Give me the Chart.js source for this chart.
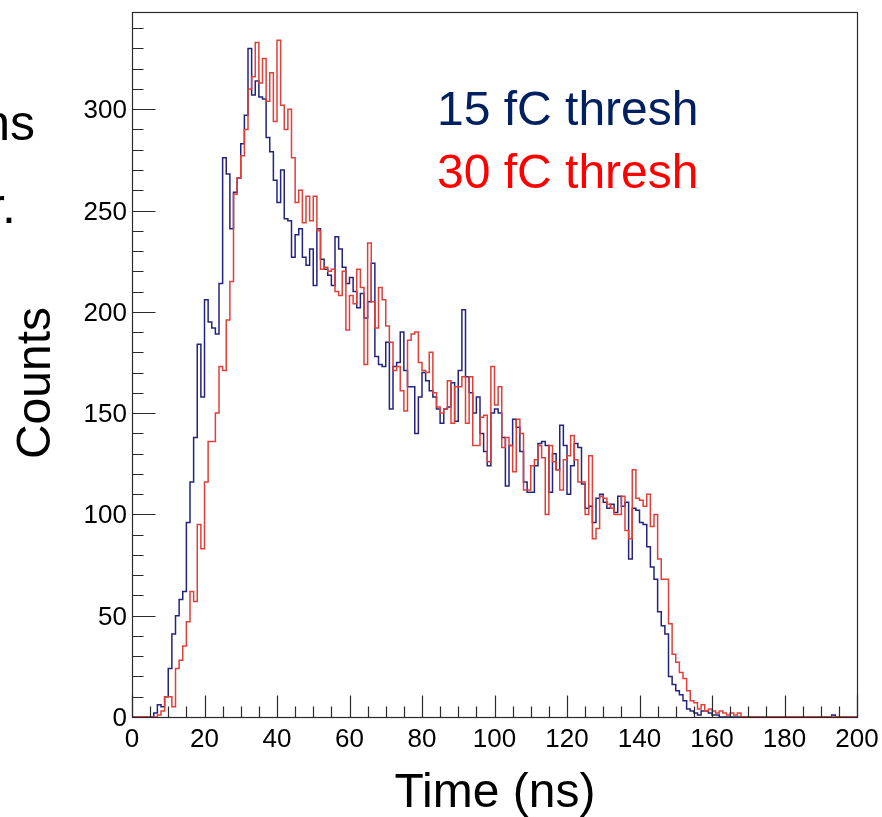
<!DOCTYPE html>
<html><head><meta charset="utf-8">
<script src="https://cdn.jsdelivr.net/npm/chart.js@4.4.0/dist/chart.umd.min.js"></script>
<style>html,body{margin:0;padding:0;background:#fff;overflow:hidden}canvas{display:block}</style>
</head><body>
<canvas id="c" width="882" height="817"></canvas>
<script>
// Histogram: 200 bins of 1 ns from 0 to 200 ns
const X_MIN = 0, X_MAX = 200, BIN_WIDTH = 1;
const Y_MAX = 348;

// 15 fC threshold (blue) — counts per 1 ns bin, bins 0..199
const blue15 = [
  0,0,0,0,0,0,2,6,5,10,
  24,41,50,58,62,96,116,138,184,158,
  206,195,192,189,214,276,268,241,259,266,
  283,297,330,307,314,306,305,286,279,265,
  254,270,246,245,227,238,241,227,223,231,
  213,241,226,221,218,213,237,231,222,214,
  217,210,202,209,197,205,224,178,174,173,
  185,152,173,175,190,171,163,163,140,158,
  170,166,161,158,152,145,152,153,165,146,
  171,201,168,160,150,158,140,131,124,150,
  152,150,138,114,134,147,143,131,116,111,
  111,124,135,136,134,111,130,122,144,134,
  110,124,135,133,115,103,104,96,108,110,
  106,103,105,101,109,104,106,78,103,102,
  96,95,84,74,68,52,45,41,20,16,
  13,11,8,4,3,2,1,3,3,2,
  1,1,0,0,0,0,0,0,0,0,
  0,0,0,0,0,0,0,0,0,0,
  0,0,0,0,0,0,0,0,0,0,
  0,0,0,1,0,0,0,0,0,0
];

// 30 fC threshold (red) — counts per 1 ns bin, bins 0..199
const red30 = [
  0,0,0,0,0,0,0,1,3,10,
  10,5,24,28,35,47,62,57,95,83,
  116,136,136,150,173,171,196,215,258,266,
  277,290,310,316,333,313,325,304,318,294,
  334,302,290,300,276,254,260,244,257,245,
  257,240,221,222,220,221,210,208,220,191,
  208,204,221,212,174,234,205,192,212,206,
  193,185,171,173,161,151,186,189,190,175,
  171,170,180,160,153,150,152,166,145,163,
  163,168,145,168,134,134,148,149,126,173,
  154,163,133,138,134,121,147,140,112,112,
  124,127,134,128,100,134,126,122,112,127,
  129,139,127,116,116,100,129,88,93,109,
  108,105,103,100,100,109,92,88,122,108,
  107,104,110,94,100,78,68,68,46,31,
  27,22,19,13,8,7,4,6,3,4,
  3,2,3,2,1,2,1,2,0,0,
  0,0,0,0,0,0,0,0,0,0,
  0,0,0,0,0,0,0,0,0,0,
  0,0,0,0,0,0,0,0,0,0
];

const xTickLabels = ['0','20','40','60','80','100','120','140','160','180','200'];
const yTickLabels = ['0','50','100','150','200','250','300'];
const seriesNames = ['15 fC thresh', '30 fC thresh'];
const xTitle = 'Time (ns)';
const yTitle = 'Counts';

function toSteps(values) {
  const pts = values.map((v, i) => ({x: X_MIN + i * BIN_WIDTH, y: v}));
  pts.push({x: X_MIN + values.length * BIN_WIDTH, y: values[values.length - 1]});
  return pts;
}

const FONT = '"Liberation Sans", Arial, Helvetica, sans-serif';

const histoDecor = {
  id: 'histoDecor',
  afterDatasetsDraw(chart) {
    const {ctx, chartArea: a, scales: {x, y}} = chart;
    ctx.save();
    // frame
    ctx.strokeStyle = '#2a2a2a';
    ctx.lineWidth = 1.2;
    const L = Math.round(a.left) + 0.5, R = Math.round(a.right) + 0.5;
    const T = Math.round(a.top) + 0.5, B = Math.round(a.bottom) + 0.5;
    ctx.strokeRect(L, T, R - L, B - T);
    // x ticks (inside), minor every 5, major every 20
    ctx.beginPath();
    for (let v = X_MIN; v <= X_MAX; v += 5) {
      const px = Math.round(x.getPixelForValue(v)) + 0.5;
      const len = (v % 20 === 0) ? 22 : 11;
      ctx.moveTo(px, B); ctx.lineTo(px, B - len);
    }
    // y ticks (inside), minor every 10, major every 50
    for (let v = 0; v <= Y_MAX; v += 10) {
      const py = Math.round(y.getPixelForValue(v)) + 0.5;
      const len = (v % 50 === 0) ? 23 : 11;
      ctx.moveTo(L, py); ctx.lineTo(L + len, py);
    }
    ctx.stroke();
    // tick labels
    ctx.fillStyle = '#000';
    ctx.font = '26px ' + FONT;
    ctx.textAlign = 'center';
    ctx.textBaseline = 'alphabetic';
    xTickLabels.forEach(t => {
      ctx.fillText(t, x.getPixelForValue(Number(t)), 747);
    });
    ctx.textAlign = 'right';
    yTickLabels.forEach(t => {
      ctx.fillText(t, 127, y.getPixelForValue(Number(t)) + 9);
    });
    // axis titles
    ctx.font = '48px ' + FONT;
    ctx.textAlign = 'center';
    ctx.fillText(xTitle, 495, 807);
    ctx.save();
    ctx.translate(50, 383);
    ctx.rotate(-Math.PI / 2);
    ctx.fillText(yTitle, 0, 0);
    ctx.restore();
    // legend text
    ctx.textAlign = 'left';
    ctx.fillStyle = '#002060';
    ctx.fillText(seriesNames[0], 437, 125);
    ctx.fillStyle = '#ff0000';
    ctx.fillText(seriesNames[1], 437, 188);
    // cropped slide text fragments at the left edge
    ctx.fillStyle = '#000';
    ctx.font = '50px ' + FONT;
    ctx.textAlign = 'right';
    ctx.fillText('ns', 35, 140);
    ctx.fillText('r.', 16, 223);
    ctx.restore();
  }
};

new Chart(document.getElementById('c'), {
  type: 'line',
  data: {
    datasets: [
      {label: seriesNames[1], data: toSteps(red30), stepped: 'before', borderColor: '#e0403a',
       borderWidth: 1.5, pointRadius: 0, fill: false, order: 0},
      {label: seriesNames[0], data: toSteps(blue15), stepped: 'before', borderColor: '#24247e',
       borderWidth: 1.5, pointRadius: 0, fill: false, order: 1}
    ]
  },
  options: {
    responsive: false,
    animation: false,
    devicePixelRatio: 1,
    layout: {padding: {left: 132, right: 25, top: 12, bottom: 100}},
    plugins: {legend: {display: false}, tooltip: {enabled: false}},
    scales: {
      x: {type: 'linear', min: X_MIN, max: X_MAX, display: false},
      y: {type: 'linear', min: 0, max: Y_MAX, display: false}
    }
  },
  plugins: [histoDecor]
});
</script>
</body></html>
